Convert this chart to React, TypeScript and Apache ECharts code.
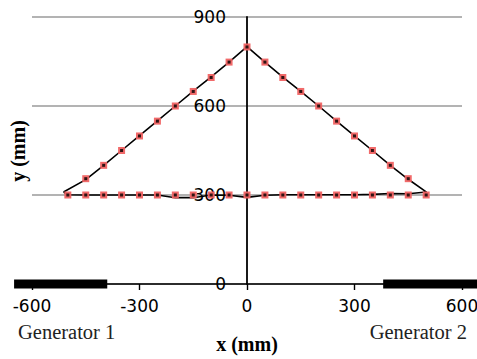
import React, { useEffect, useRef } from "react";
import * as echarts from "echarts";

// Simulated contour (closed loop): left vertex -> apex -> right vertex -> back along lower edge
const lineX = [-512, -450, -400, -350, -300, -250, -200, -150, -100, -50, 0, 50, 100, 150, 200, 250, 300, 350, 400, 450, 501, 450, 400, 350, 300, 250, 200, 150, 100, 50, 0, -50, -100, -150, -200, -250, -300, -350, -400, -450, -500, -512];
const lineY = [310, 352, 400, 450, 500, 550, 600, 650, 698, 748, 800, 748, 697, 649, 600, 549, 499, 450, 400, 353, 310, 304, 305, 302, 301, 301, 301, 301, 301, 299, 292, 299, 300, 291, 291, 300, 300, 300, 300, 300, 301, 310];

// Measured points (upper edges and apex)
const upperX = [-450, -400, -350, -300, -250, -200, -150, -100, -50, 0, 50, 100, 150, 200, 250, 300, 350, 400, 450];
const upperY = [355, 400, 450, 499, 549, 600, 649, 696, 748, 799, 748, 696, 649, 600, 549, 499, 450, 400, 355];
// Measured points (lower edge)
const lowerX = [-500, -450, -400, -350, -300, -250, -200, -150, -100, -50, 0, 50, 100, 150, 200, 250, 300, 350, 400, 450, 500];
const lowerY = [300, 300, 300, 300, 300, 300, 300, 300, 300, 300, 300, 300, 300, 300, 300, 300, 300, 300, 300, 300, 300];

// Generators: [x start, x end, y]
const generators = [
  [-650, -390, 0],
  [380, 650, 0],
];

const xMin = -600;
const xMax = 600;
const xInterval = 300;
const yMin = 0;
const yMax = 900;
const yInterval = 300;

const GRID_LEFT = 32;
const GRID_RIGHT = 15;
const GRID_WIDTH = 477 - GRID_LEFT - GRID_RIGHT;

export default function App() {
  const ref = useRef<HTMLDivElement>(null);
  useEffect(() => {
    if (!ref.current) return;
    const chart = echarts.init(ref.current, null, { renderer: "svg" });
    const lineData = lineX.map((x, i) => [x, lineY[i]]);
    const markerData = [
      ...upperX.map((x, i) => [x, upperY[i]]),
      ...lowerX.map((x, i) => [x, lowerY[i]]),
    ];
    // y axis sits at x = 0: shift it from the grid's left edge by the pixel distance to zero
    const yAxisOffset = -GRID_WIDTH * ((0 - xMin) / (xMax - xMin));
    const sans = "DejaVu Sans";
    const serif = "Liberation Serif";
    chart.setOption({
      animation: false,
      backgroundColor: "#ffffff",
      grid: { left: GRID_LEFT, right: GRID_RIGHT, top: 17, bottom: 75, outerBoundsMode: "none", containLabel: false },
      xAxis: {
        type: "value",
        min: xMin,
        max: xMax,
        interval: xInterval,
        splitLine: { show: false },
        axisLine: { show: true, onZero: true, lineStyle: { color: "#000", width: 1.6 } },
        axisTick: { show: true, inside: false, length: 6, lineStyle: { color: "#000", width: 1.4 } },
        axisLabel: { color: "#000", fontFamily: sans, fontSize: 17, margin: 13, showMaxLabel: true, showMinLabel: true },
      },
      yAxis: {
        type: "value",
        min: yMin,
        max: yMax,
        interval: yInterval,
        position: "left",
        offset: yAxisOffset,
        splitLine: { show: true, lineStyle: { color: "#9a9a9a", width: 1.6 } },
        axisLine: { show: true, onZero: false, lineStyle: { color: "#000", width: 1.8 } },
        axisTick: { show: false },
        axisLabel: { color: "#000", fontFamily: sans, fontSize: 17, margin: 21 },
      },
      series: [
        {
          type: "custom",
          data: generators,
          dimensions: ["x0", "x1", "y"],
          encode: { x: [0, 1], y: 2 },
          clip: false,
          silent: true,
          z: 4,
          renderItem: (params: any, api: any) => {
            const p0 = api.coord([api.value(0), api.value(2)]);
            const p1 = api.coord([api.value(1), api.value(2)]);
            return {
              type: "rect",
              shape: { x: p0[0], y: p0[1] - 4.5, width: p1[0] - p0[0], height: 9 },
              style: { fill: "#000" },
            };
          },
        },
        {
          type: "line",
          data: lineData,
          symbol: "none",
          lineStyle: { color: "#000", width: 1.6 },
          z: 3,
        },
        {
          type: "scatter",
          data: markerData,
          symbol: "rect",
          symbolSize: 7,
          itemStyle: { color: "#f06262", opacity: 0.95 },
          z: 5,
        },
        {
          type: "scatter",
          data: markerData,
          symbol: "rect",
          symbolSize: 3,
          itemStyle: { color: "#000" },
          z: 6,
        },
      ],
      graphic: [
        {
          type: "text",
          x: 18,
          y: 332,
          style: { text: "Generator 1", fill: "#222", font: `20.5px "${serif}"`, textAlign: "left", textVerticalAlign: "middle" },
        },
        {
          type: "text",
          x: 467,
          y: 332,
          style: { text: "Generator 2", fill: "#222", font: `20.5px "${serif}"`, textAlign: "right", textVerticalAlign: "middle" },
        },
        {
          type: "text",
          x: 247,
          y: 344,
          style: { text: "x (mm)", fill: "#000", font: `bold 20px "${serif}"`, textAlign: "center", textVerticalAlign: "middle" },
        },
        {
          type: "text",
          x: 17.5,
          y: 151,
          rotation: Math.PI / 2,
          style: { text: "y (mm)", fill: "#000", font: `bold 20px "${serif}"`, textAlign: "center", textVerticalAlign: "middle" },
        },
      ],
    });
    return () => chart.dispose();
  }, []);
  return <div ref={ref} style={{ width: 477, height: 359, position: "absolute", left: 0, top: 0 }} />;
}
